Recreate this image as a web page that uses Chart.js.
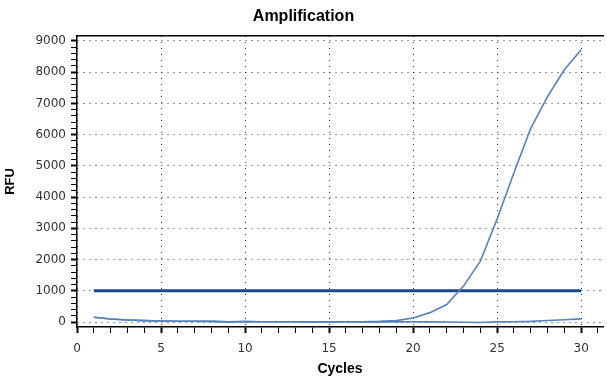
<!DOCTYPE html>
<html><head><meta charset="utf-8">
<script src="https://cdn.jsdelivr.net/npm/chart.js@4/dist/chart.umd.min.js"></script>
<style>html,body{margin:0;padding:0;background:#fff;}#wrap{width:607px;height:378px;}</style>
</head><body><div id="wrap"><canvas id="c" width="607" height="378"></canvas></div>
<script>
const cycles = [1,2,3,4,5,6,7,8,9,10,11,12,13,14,15,16,17,18,19,20,21,22,23,24,25,26,27,28,29,30];
const sampleA = [150,95,65,45,30,25,22,20,5,15,10,8,10,5,5,8,10,20,45,130,300,560,1150,1950,3300,4780,6200,7220,8080,8720];
const sampleB = [150,95,65,45,30,25,22,20,5,15,10,8,10,5,5,8,5,5,5,10,5,0,-10,-15,5,10,20,50,70,100];
const thresholdCycles = [1,30];
const thresholdRFU = [1000,1000];
const xTickLabels = [0,5,10,15,20,25,30];
const yTickLabels = [0,1000,2000,3000,4000,5000,6000,7000,8000,9000];

const toPts = (xs, ys) => xs.map((x,i)=>({x:x,y:ys[i]}));
const FONT = "'Liberation Sans', Arial, sans-serif";
const TICKFONT = "'DejaVu Sans', sans-serif";

new Chart(document.getElementById('c'), {
  type: 'line',
  data: {
    datasets: [
      {data: toPts(cycles, sampleA), borderColor:'#5582bb', borderWidth:1.6, pointRadius:0, tension:0, xAxisID:'x', yAxisID:'y'},
      {data: toPts(cycles, sampleB), borderColor:'#5582bb', borderWidth:1.6, pointRadius:0, tension:0, xAxisID:'x', yAxisID:'y'},
      {data: toPts(thresholdCycles, thresholdRFU), borderColor:'#17498a', borderWidth:3, pointRadius:0, xAxisID:'x', yAxisID:'y'}
    ]
  },
  options: {
    responsive:false, animation:false, devicePixelRatio:1,
    layout:{padding:{left:0,right:0,top:0,bottom:0}},
    plugins:{
      legend:{display:false}, tooltip:{enabled:false},
      title:{display:true, text:'Amplification', color:'#000', font:{family:FONT, size:16, weight:'bold', lineHeight:1.2}, padding:{top:7.4,bottom:9.4}}
    },
    scales:{
      x:{
        type:'linear', position:'bottom', min:0, max:31.3,
        afterFit: s => { s.height = 51; },
        title:{display:true, text:'Cycles', color:'#000', font:{family:FONT, size:14, weight:'bold', lineHeight:1.2}, padding:{top:0,bottom:0}},
        border:{display:true, color:'#000', width:1.5, dash:[1,5]},
        grid:{
          color: c => (c.tick && c.tick.value % 5 === 0) ? '#333' : 'rgba(0,0,0,0)',
          lineWidth:1,
          tickColor:'#000', tickLength:6,
          tickWidth: c => (c.tick && c.tick.value % 5 === 0) ? 2 : 1
        },
        ticks:{
          stepSize:1, includeBounds:false, autoSkip:false, maxRotation:0,
          color:'#333', font:{family:TICKFONT, size:12}, padding:9,
          callback: v => xTickLabels.includes(v) ? String(v) : ''
        }
      },
      x2:{
        type:'linear', position:'top', min:0, max:31.3,
        afterFit: s => { s.height = 0; },
        border:{display:true, color:'#000', width:1.5},
        grid:{display:false},
        ticks:{display:false}
      },
      y:{
        type:'linear', min:-160, max:9160,
        afterFit: s => { s.width = 77; },
        title:{display:true, text:'RFU', color:'#000', font:{family:FONT, size:13, weight:'bold', lineHeight:1.2}, padding:{top:3,bottom:0}},
        border:{display:true, color:'#000', width:1.5, dash:[1,5]},
        grid:{
          color: c => (c.tick && c.tick.value % 1000 === 0) ? '#333' : 'rgba(0,0,0,0)',
          lineWidth:1,
          tickColor:'#000', tickLength:6,
          tickWidth: c => (c.tick && c.tick.value % 1000 === 0) ? 2 : 1
        },
        ticks:{
          stepSize:200, includeBounds:false, autoSkip:false,
          color:'#333', font:{family:TICKFONT, size:12}, padding:5,
          callback: v => yTickLabels.includes(v) ? String(v) : ''
        }
      }
    }
  }
});
</script>
</body></html>
